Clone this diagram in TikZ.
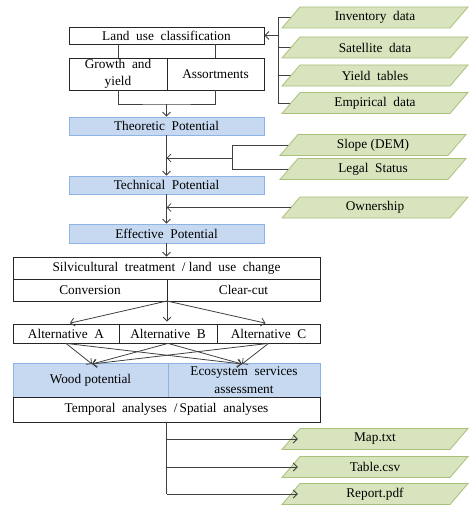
\documentclass[tikz,border=0pt]{standalone}
\usepackage{fontspec}
\setmainfont{Liberation Serif}
\usetikzlibrary{arrows.meta,calc}
\definecolor{gfill}{HTML}{D7E4BD}
\definecolor{gline}{HTML}{A9C07A}
\definecolor{bfill}{HTML}{C6D9F1}
\definecolor{bline}{HTML}{8EB4E3}
\definecolor{lnc}{HTML}{404040}
\pgfdeclarelayer{bg}
\pgfdeclarelayer{shp}
\pgfsetlayers{bg,shp,main}
\newcommand\parashape[1]{%
  \begin{pgfonlayer}{shp}
  \filldraw[fill=gfill, draw=gline, line width=0.8pt]
    ($(#1.center)+(-75,-10.5)$) -- ($(#1.center)+(93,-10.5)$) --
    ($(#1.center)+(75,10.5)$) -- ($(#1.center)+(-93,10.5)$) -- cycle;
  \end{pgfonlayer}}
\begin{document}
\begin{tikzpicture}[x=1pt,y=-1pt,
  font=\fontsize{13.3}{15}\selectfont,
  wbox/.style={draw=black!85, fill=white, rectangle, inner sep=0pt, line width=0.8pt},
  bbox/.style={draw=bline, fill=bfill, rectangle, inner sep=0pt, line width=0.8pt},
  para/.style={rectangle, minimum width=168pt, minimum height=21pt, inner sep=0pt},
  ln/.style={draw=lnc, line width=0.8pt},
  arr/.style={ln, -{Straight Barb[length=4pt,width=8pt]}}
]
\useasboundingbox (0,0) rectangle (474,511);

% data parallelograms (text nodes; shapes drawn on layer shp)
\node[para] (inv) at (375,17.5) {Inventory\ \ data};
\node[para] (sat) at (375,47.5) {Satellite\ \ data};
\node[para] (yld) at (375,75.5) {Yield\ \ tables};
\node[para] (emp) at (375,103) {Empirical\ \ data};
\node[para] (slope) at (373,145) {Slope (DEM)};
\node[para] (legal) at (373,169) {Legal\ \ Status};
\node[para] (own) at (375,207.5) {Ownership};
\node[para] (map) at (375,439) {Map.txt};
\node[para] (table) at (375,467) {Table.csv};
\node[para] (report) at (375,494) {Report.pdf};
\foreach \n in {inv,sat,yld,emp,slope,legal,own,map,table,report}{\parashape{\n}}

% main boxes
\node[wbox, minimum width=195pt, minimum height=17pt] (luc) at (166.5,35.5) {Land\ \ use\ \ classification};
\node[wbox, minimum width=98pt, minimum height=32pt, align=center, font=\fontsize{13.3}{17}\selectfont] (growth) at (118,74) {Growth\ \ and\\yield};
\node[wbox, minimum width=97pt, minimum height=32pt] (assort) at (215.5,74) {Assortments};
\node[bbox, minimum width=195pt, minimum height=18pt] (theo) at (166.5,126) {Theoretic\ \ Potential};
\node[bbox, minimum width=195pt, minimum height=18pt] (tech) at (166.5,185) {Technical\ \ Potential};
\node[bbox, minimum width=195pt, minimum height=19pt] (eff) at (166.5,233.5) {Effective\ \ Potential};
\node[wbox, minimum width=307pt, minimum height=22pt] (silv) at (166.5,268) {Silvicultural\ \ treatment\ \ /\ land\ \ use\ \ change};
\node[wbox, minimum width=154pt, minimum height=22pt] (conv) at (90,290) {Conversion};
\node[wbox, minimum width=153pt, minimum height=22pt] (clear) at (243.5,290) {Clear-cut};
\node[wbox, minimum width=106pt, minimum height=19pt] (altA) at (66,333.5) {Alternative\ \ A};
\node[wbox, minimum width=98pt, minimum height=19pt] (altB) at (168,333.5) {Alternative\ \ B};
\node[wbox, minimum width=103pt, minimum height=19pt] (altC) at (268.5,333.5) {Alternative\ \ C};
\node[bbox, minimum width=155pt, minimum height=34pt] (wood) at (90.5,380) {Wood potential};
\node[bbox, minimum width=152pt, minimum height=34pt, align=center, font=\fontsize{13.3}{18}\selectfont] (eco) at (244,380) {Ecosystem\ \ services\\assessment};
\node[wbox, minimum width=307pt, minimum height=25pt] (temp) at (166.5,409.5) {Temporal\ \ analyses\ \ /\,Spatial\ \ analyses};

% coordinates
\coordinate (bx) at (278,35.5);
\coordinate (j1) at (166.5,104);
\coordinate (sx) at (232,158);
\coordinate (cs) at (167,301);
\coordinate (tW) at (92,364);
\coordinate (tE) at (242,364);

% connectors: top
\draw[ln] (growth.north |- luc.south) -- (growth.north);
\draw[ln] (assort.north |- luc.south) -- (assort.north);
\draw[ln] (growth.south) |- (j1) -| (assort.south);
\draw[arr] (j1) -- (theo.north);

% input bracket (behind the parallelograms)
\begin{pgfonlayer}{bg}
\draw[ln] ($(inv.west)+(12,0)$) -| (bx |- emp.west) -- ($(emp.west)+(12,0)$);
\draw[ln] (bx |- sat.west) -- ($(sat.west)+(12,0)$);
\draw[ln] (bx |- yld.west) -- ($(yld.west)+(12,0)$);
\draw[ln] (slope.west) -| (sx |- legal.west) -- (legal.west);
\end{pgfonlayer}
\draw[arr] (bx) -- (luc.east);

% slope / legal bracket
\draw[arr] (sx) -- (sx -| theo.south);
\draw[arr] (theo.south) -- (tech.north);
\draw[arr] (own.west) -- (own.west -| tech.south);
\draw[arr] (tech.south) -- (eff.north);
\draw[arr] (eff.south) -- (silv.north);

% treatment to alternatives
\draw[arr, shorten >=2pt] (cs) -- ($(altA.north)+(2,0)$);
\draw[arr, shorten >=2pt] (cs) -- (cs |- altB.north);
\draw[arr, shorten >=2pt] (cs) -- ($(altC.north)+(-1,0)$);

% alternatives to results
\draw[arr] (altA.south) -- (tW);
\draw[arr] (altA.south) -- (tE);
\draw[arr] (altB.south) -- (tW);
\draw[arr] (altB.south) -- (tE);
\draw[arr] (altC.south) -- (tW);
\draw[arr] (altC.south) -- (tE);

% outputs
\draw[ln] (temp.south) -- (temp.south |- report.west);
\draw[arr] (temp.south |- map.west) -- ($(map.west)+(7,0)$);
\draw[arr] (temp.south |- table.west) -- ($(table.west)+(7,0)$);
\draw[arr] (temp.south |- report.west) -- ($(report.west)+(7,0)$);
\end{tikzpicture}
\end{document}
